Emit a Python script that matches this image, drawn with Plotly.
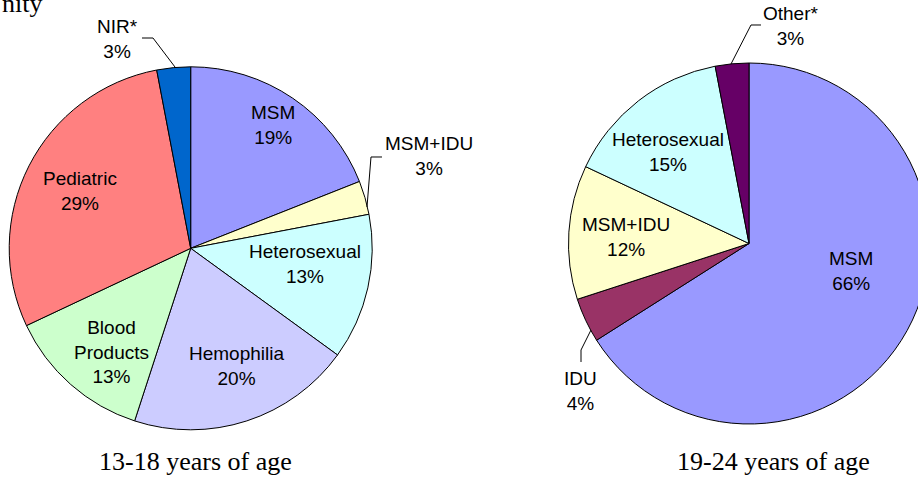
import plotly.graph_objects as go

# ---------------- data ----------------
left_labels = ["MSM", "MSM+IDU", "Heterosexual", "Hemophilia", "Blood Products", "Pediatric", "NIR*"]
left_values = [19, 3, 13, 20, 13, 29, 3]
left_colors = ["#9999FF", "#FFFFCC", "#CCFFFF", "#CCCCFF", "#CCFFCC", "#FF8080", "#0066CC"]

right_labels = ["MSM", "IDU", "MSM+IDU", "Heterosexual", "Other*"]
right_values = [66, 4, 12, 15, 3]
right_colors = ["#9999FF", "#993366", "#FFFFCC", "#CCFFFF", "#660066"]

left_title = "13-18 years of age"
right_title = "19-24 years of age"
top_fragment = "nity"

# ---------------- layout helpers ----------------
W, H = 940, 478


def px(x):
    return x / W


def py(y):
    return 1 - y / H


def pie_domain(cx, cy, r):
    return dict(x=[px(cx - r), px(cx + r)], y=[py(cy + r), py(cy - r)])


fig = go.Figure()
fig.add_trace(go.Pie(
    labels=left_labels, values=left_values, sort=False, direction="clockwise",
    rotation=0, textinfo="none", hoverinfo="label+percent",
    marker=dict(colors=left_colors, line=dict(color="#000000", width=1)),
    domain=pie_domain(190.7, 248.3, 181.5), showlegend=False,
))
fig.add_trace(go.Pie(
    labels=right_labels, values=right_values, sort=False, direction="clockwise",
    rotation=0, textinfo="none", hoverinfo="label+percent",
    marker=dict(colors=right_colors, line=dict(color="#000000", width=1)),
    domain=pie_domain(749, 243.5, 180.5), showlegend=False,
))

lab_font = dict(family="Liberation Sans, Arial, sans-serif", size=19, color="#000000")

# label block centres (pixels)
left_pos = {
    "MSM": (273, 124.5),
    "MSM+IDU": (429, 155.8),
    "Heterosexual": (304.7, 264),
    "Hemophilia": (236.7, 366.3),
    "Blood Products": (111.7, 351.7),
    "Pediatric": (80, 190.8),
    "NIR*": (118, 38.5),
}
right_pos = {
    "MSM": (850.5, 270.5),
    "IDU": (580.5, 391),
    "MSM+IDU": (626.3, 237),
    "Heterosexual": (668, 152.5),
    "Other*": (791, 25.8),
}

annotations = []
for labels, values, pos in ((left_labels, left_values, left_pos), (right_labels, right_values, right_pos)):
    for lab, val in zip(labels, values):
        x, y = pos[lab]
        name = lab.replace(" ", "<br>") if lab == "Blood Products" else lab
        annotations.append(dict(
            text=f"{name}<br>{val}%", x=px(x), y=py(y), xref="paper", yref="paper",
            showarrow=False, xanchor="center", yanchor="middle", font=lab_font, align="center",
        ))

title_font = dict(family="Liberation Serif, Times New Roman, serif", size=26, color="#000000")
annotations.append(dict(text=left_title, x=px(195.5), y=py(461), xref="paper", yref="paper",
                        showarrow=False, xanchor="center", yanchor="middle", font=title_font))
annotations.append(dict(text=right_title, x=px(773), y=py(461), xref="paper", yref="paper",
                        showarrow=False, xanchor="center", yanchor="middle", font=title_font))
annotations.append(dict(text=top_fragment, x=px(0), y=py(3), xref="paper", yref="paper",
                        showarrow=False, xanchor="left", yanchor="middle", font=title_font))

leaders = [
    [(142, 38), (153, 38), (175, 67)],
    [(382, 157), (371, 157), (367, 207)],
    [(761, 25), (751, 25), (731, 64)],
    [(581, 362), (581, 350), (591, 330)],
]
shapes = []
for pts in leaders:
    path = "M " + " L ".join(f"{px(x):.5f},{py(y):.5f}" for x, y in pts)
    shapes.append(dict(type="path", path=path, xref="paper", yref="paper",
                       line=dict(color="#000000", width=1)))

fig.update_layout(
    width=W, height=H, margin=dict(l=0, r=0, t=0, b=0),
    paper_bgcolor="#FFFFFF", plot_bgcolor="#FFFFFF",
    annotations=annotations, shapes=shapes,
)

fig.write_html(
    "out.html",
    config={"displayModeBar": False},
    post_script="document.body.style.margin='0';document.body.style.overflow='hidden';",
)
